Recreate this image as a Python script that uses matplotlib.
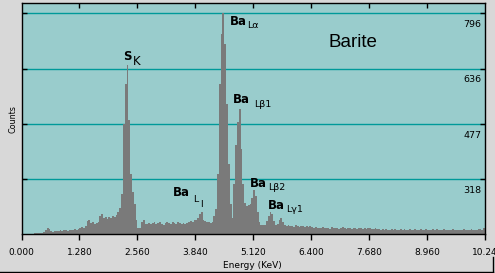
import numpy as np
import matplotlib
matplotlib.use('Agg')
import matplotlib.pyplot as plt
from matplotlib.lines import Line2D

plt.rcParams['font.family'] = 'DejaVu Sans'

# EDS spectrum of barite, 256 channels of 0.04 keV
channel_kev = 0.04
counts = [
    0, 0, 0, 0, 0, 0, 0,
    162, 162, 163, 162, 163,
    165, 171, 177, 174, 168, 166,
    168, 170, 169, 171, 170, 172, 171, 170, 173, 172, 171, 174, 173, 175,
    179, 181, 178, 182,
    197, 200,
    192, 194, 190, 193, 195,
    211, 217,
    205, 208, 203, 210, 206, 212, 209, 214,
    225, 236, 275,
    476, 591, 646, 490, 332, 280, 246, 202, 179, 177, 194, 200, 188,   # S K
    190, 193, 188, 192, 195, 189, 191, 194, 190, 187, 193, 196,
    191, 189, 194, 192, 188, 195, 191, 190, 193, 189, 192, 196,
    197, 194, 200, 202,
    205, 217, 225, 202,            # Ba Ll
    197, 194, 196, 193, 195,
    211, 231,
    332, 591, 735, 798, 706, 534, 361, 246, 205,   # Ba La
    303, 418, 482, 519, 404, 303, 251, 240, 243, 246,   # Ba Lb1
    263, 286, 269, 223, 194, 185, 186, 185,   # Ba Lb2
    197, 211, 225, 217, 197, 185, 188, 200, 205, 194, 185,   # Ba Lg1
    183, 185, 182, 184, 181, 185, 183, 180, 184, 182, 181, 183, 180, 182, 181,
    178, 180, 177, 179, 178, 181, 177, 179, 178, 176, 180, 178,
    177, 179, 176, 178, 180, 177, 176, 178, 179, 176, 177, 178,
    176, 179, 177, 175, 178, 176, 177, 179, 176, 175, 177, 176,
    174, 172, 175, 173, 174, 171, 173, 175, 172, 174, 173, 171,
    174, 172, 175, 173, 172, 174, 171, 173, 174, 172, 173, 175,
    171, 172, 174, 173, 171, 172, 174, 173, 175, 172, 171, 173,
    174, 172, 173, 171, 172, 174, 173, 172, 171, 173, 172, 174,
    171, 173, 172, 174, 173, 172, 171, 174, 175, 173, 177,
]
energy = np.arange(len(counts)) * channel_kev

xticks = [0, 1.28, 2.56, 3.84, 5.12, 6.4, 7.68, 8.96, 10.24]
xtick_labels = ['0.000', '1.280', '2.560', '3.840', '5.120', '6.400', '7.680', '8.960', '10.24']
grid_vals = [318.4, 477.6, 636.8, 796.0]
grid_labels = ['318', '477', '636', '796']

W, H = 495, 273
fig = plt.figure(figsize=(W / 100, H / 100), dpi=100, facecolor='#d8d8d8')
ax = fig.add_axes([21.5 / W, 1 - 234.3 / H, 463.5 / W, 231.6 / H])
ax.set_facecolor('#99cccc')

for v in grid_vals:
    ax.axhline(v, color='#009999', lw=1, zorder=1)

ax.bar(energy, counts, width=channel_kev, align='edge', color='#7a7a7a', linewidth=0, zorder=2)

ax.set_xlim(0, 10.24)
ax.set_ylim(159.5, 826.3)

ax.set_xticks(xticks)
ax.set_xticklabels(xtick_labels)
ax.tick_params(axis='x', direction='out', length=4, width=1, pad=6, labelsize=6.5)
ax.set_yticks(grid_vals)
ax.tick_params(axis='y', direction='in', left=True, right=True, labelleft=False,
               length=3.6, width=1)
top = ax.secondary_xaxis('top')
top.set_xticks(xticks[1:-1])
top.tick_params(direction='in', length=3.4, width=1, labeltop=False)
for s in ax.spines.values():
    s.set_linewidth(1)
top.spines['top'].set_visible(False)

for v, lab in zip(grid_vals, grid_labels):
    ax.annotate(lab, xy=(1, v), xycoords=('axes fraction', 'data'),
                xytext=(-2.4, -10), textcoords='offset points',
                ha='right', va='baseline', fontsize=6.8)


def put(x, y, s, size, weight='normal', **kw):
    fig.text(x / W, 1 - y / H, s, fontsize=size, fontweight=weight,
             ha='left', va='baseline', **kw)


# peak labels
put(123, 59.5, 'S', 8.5, 'bold')
put(133, 65, 'K', 8.5)
put(230, 25, 'Ba', 8.5, 'bold')
put(247.5, 28.3, 'L\u03b1', 6.8)
put(233, 103.3, 'Ba', 8.5, 'bold')
put(254, 106.7, 'L\u03b21', 6.8)
put(173, 196, 'Ba', 8.5, 'bold')
put(193.3, 201.7, 'L', 6.8)
put(200.5, 207.3, 'l', 6.8)
put(250, 186.7, 'Ba', 8.5, 'bold')
put(268.3, 190, 'L\u03b22', 6.8)
put(268, 209, 'Ba', 8.5, 'bold')
put(286.5, 212.4, 'L\u03b31', 6.8)

put(328, 47, 'Barite', 13.5, family='Liberation Sans')

fig.text(252.5 / W, 1 - 267.5 / H, 'Energy (KeV)', fontsize=6.5, ha='center', va='baseline')
fig.text(13 / W, 1 - 119 / H, 'Counts', fontsize=5.8, rotation=90, ha='center', va='center')

# window frame at bottom right
fig.add_artist(Line2D([0, 492.7 / W], [1 - 271.5 / H] * 2, transform=fig.transFigure,
                      color='black', lw=1))
fig.add_artist(Line2D([492.7 / W] * 2, [1 - 256.7 / H, 1 - 271.5 / H], transform=fig.transFigure,
                      color='black', lw=1))

fig.savefig('out.png', dpi=100, facecolor=fig.get_facecolor())
